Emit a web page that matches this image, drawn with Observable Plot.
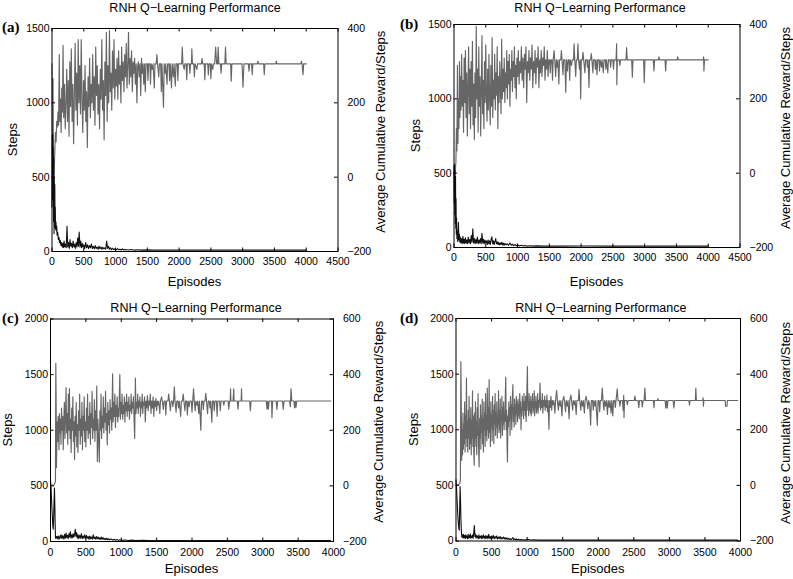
<!DOCTYPE html>
<html><head><meta charset="utf-8">
<script src="https://cdn.jsdelivr.net/npm/d3@7"></script>
<script src="https://cdn.jsdelivr.net/npm/@observablehq/plot@0.6"></script>
<style>
body{margin:0;background:#fff;}
#chart{position:relative;width:793px;height:579px;overflow:hidden;background:#fff;}
#chart svg{position:absolute;overflow:visible;}
</style></head><body><div id="chart"></div>
<script>
const chartTitle = "RNH Q\u2212Learning Performance";
const xLabel = "Episodes";
const yLabel = "Steps";
const y2Label = "Average Cumulative Reward/Steps";
const panelLabels = ["(a)", "(b)", "(c)", "(d)"];
const episodeTicksAB = [0, 500, 1000, 1500, 2000, 2500, 3000, 3500, 4000, 4500];
const episodeTicksCD = [0, 500, 1000, 1500, 2000, 2500, 3000, 3500, 4000];
const stepTicksAB = [0, 500, 1000, 1500];
const stepTicksCD = [0, 500, 1000, 1500, 2000];
const rewardTicksAB = [-200, 0, 200, 400];
const rewardTicksCD = [-200, 0, 200, 400, 600];

// [episode, average cumulative reward] (right axis)
const rewardA = [[0,305],[8,0],[16,265],[24,-5],[34,10],[44,70],[54,120],[64,95],[74,150],[84,135],[94,175],[104,140],[114,330],[124,150],[134,210],[144,120],[154,240],[164,175],[174,355],[184,160],[196,250],[208,130],[220,200],[232,290],[244,150],[256,260],[268,110],[280,310],[292,190],[304,345],[316,150],[328,250],[340,90],[352,220],[364,360],[376,180],[388,280],[400,140],[412,370],[424,200],[436,300],[448,170],[460,370],[472,210],[484,120],[496,260],[508,180],[520,300],[532,150],[544,230],[556,80],[568,270],[580,190],[592,320],[604,160],[616,250],[628,200],[640,330],[652,180],[664,270],[676,140],[688,350],[700,220],[712,300],[724,170],[736,250],[748,130],[760,290],[772,210],[784,370],[796,180],[808,260],[820,100],[832,310],[844,220],[856,390],[868,150],[880,300],[892,200],[904,395],[916,230],[928,280],[940,180],[952,340],[964,240],[976,370],[988,210],[1000,290],[1012,245],[1024,320],[1036,210],[1048,340],[1060,250],[1072,300],[1084,200],[1096,350],[1108,260],[1120,310],[1132,230],[1144,330],[1156,270],[1168,360],[1180,240],[1192,300],[1204,390],[1216,250],[1228,320],[1240,270],[1252,340],[1264,230],[1276,310],[1288,280],[1300,320],[1312,250],[1324,305],[1336,200],[1348,300],[1360,310],[1372,270],[1384,305],[1396,220],[1408,320],[1420,280],[1432,305],[1444,250],[1456,305],[1468,230],[1480,305],[1500,305],[1510,260],[1520,305],[1540,305],[1550,250],[1560,305],[1575,290],[1590,305],[1610,240],[1620,305],[1640,305],[1650,330],[1660,305],[1680,270],[1690,305],[1710,305],[1720,230],[1730,305],[1754,188],[1765,305],[1780,280],[1790,305],[1810,250],[1820,305],[1840,305],[1850,260],[1860,305],[1880,240],[1890,305],[1910,270],[1920,305],[1940,245],[1950,305],[1970,305],[1980,260],[1990,305],[2040,305],[2050,350],[2060,305],[2080,290],[2090,305],[2110,305],[2120,262],[2130,305],[2160,305],[2170,280],[2180,305],[2195,305],[2200,345],[2210,305],[2230,305],[2240,270],[2250,305],[2280,290],[2290,305],[2350,305],[2360,320],[2370,305],[2395,305],[2405,262],[2415,305],[2450,305],[2460,275],[2470,305],[2490,305],[2500,265],[2510,305],[2530,290],[2540,305],[2560,305],[2575,350],[2590,305],[2605,305],[2615,350],[2625,305],[2650,305],[2660,280],[2670,305],[2720,305],[2730,350],[2740,305],[2810,305],[2820,258],[2830,305],[2990,305],[3005,242],[3020,305],[3090,305],[3100,285],[3110,305],[3140,305],[3150,276],[3160,305],[3230,305],[3240,312],[3250,305],[3330,305],[3340,276],[3350,305],[3520,305],[3530,312],[3540,305],[3915,305],[3925,312],[3935,305],[3950,276],[3960,305],[4000,305]];
// [episode, steps] (left axis)
const stepsA = [[0,300],[4,780],[8,420],[12,790],[16,350],[20,700],[24,200],[28,620],[32,120],[36,500],[40,230],[44,450],[48,160],[52,300],[56,150],[62,200],[68,140],[74,170],[80,110],[90,130],[100,80],[110,95],[120,60],[130,75],[140,40],[150,60],[160,30],[170,55],[180,25],[190,70],[200,30],[212,50],[224,25],[236,170],[248,30],[260,60],[272,20],[284,80],[296,35],[308,55],[320,25],[332,70],[344,30],[356,50],[368,20],[380,60],[392,30],[404,90],[416,35],[428,130],[440,30],[452,70],[464,25],[476,55],[488,30],[500,45],[515,20],[530,60],[545,25],[560,45],[575,20],[590,40],[605,25],[620,50],[635,20],[650,35],[665,18],[680,40],[695,20],[710,30],[725,15],[740,35],[755,18],[770,30],[785,15],[800,28],[815,18],[830,25],[845,15],[860,70],[875,20],[890,35],[905,15],[920,25],[935,12],[950,22],[970,12],[990,18],[1010,10],[1030,20],[1050,12],[1070,15],[1090,10],[1110,18],[1130,10],[1150,14],[1200,10],[1250,14],[1300,9],[1350,12],[1400,9],[1500,11],[1600,9],[1800,10],[2000,9],[2500,9],[3000,9],[3500,9],[4000,9]];

const rewardB = [[0,0],[10,-5],[20,5],[30,30],[38,120],[46,60],[54,290],[62,80],[70,200],[78,120],[86,300],[94,150],[102,260],[110,170],[120,320],[130,180],[140,250],[150,110],[160,310],[170,190],[180,330],[190,150],[200,270],[210,100],[220,230],[230,340],[240,160],[250,280],[260,120],[270,300],[280,180],[290,355],[300,130],[310,240],[320,90],[330,270],[340,150],[350,395],[360,200],[370,280],[380,110],[390,340],[400,180],[410,260],[420,100],[430,230],[440,370],[450,160],[460,250],[470,120],[480,300],[490,190],[500,345],[510,210],[520,140],[530,280],[540,170],[550,320],[560,200],[570,130],[580,290],[590,180],[600,365],[610,150],[620,250],[630,200],[640,320],[650,170],[660,270],[670,210],[680,340],[690,120],[700,260],[710,190],[720,300],[730,230],[740,160],[750,360],[760,200],[770,280],[780,220],[790,310],[800,190],[810,270],[820,230],[830,330],[840,200],[850,300],[860,240],[870,320],[880,180],[890,280],[900,250],[910,330],[920,220],[930,300],[940,260],[950,340],[960,230],[970,290],[980,200],[990,310],[1000,260],[1012,330],[1024,240],[1036,300],[1048,270],[1060,340],[1072,250],[1084,310],[1096,230],[1108,320],[1120,280],[1132,340],[1144,190],[1156,300],[1168,270],[1180,330],[1192,250],[1204,310],[1216,280],[1228,345],[1240,230],[1252,300],[1264,270],[1276,330],[1288,240],[1300,310],[1312,285],[1324,340],[1336,230],[1348,305],[1360,270],[1372,330],[1384,260],[1396,310],[1408,290],[1420,340],[1432,250],[1444,305],[1456,280],[1468,330],[1480,260],[1492,305],[1505,305],[1515,270],[1525,305],[1540,305],[1550,250],[1560,305],[1575,330],[1585,305],[1600,260],[1610,305],[1625,285],[1635,305],[1650,240],[1660,305],[1680,305],[1690,330],[1700,305],[1715,265],[1725,305],[1745,305],[1758,218],[1770,305],[1785,275],[1795,305],[1810,305],[1820,250],[1830,305],[1850,290],[1860,305],[1880,305],[1890,348],[1900,305],[1915,260],[1925,305],[1940,305],[1950,348],[1960,305],[1975,280],[1985,305],[1993,200],[2003,305],[2020,305],[2030,325],[2040,305],[2060,270],[2070,305],[2090,305],[2100,285],[2110,305],[2124,231],[2134,305],[2150,305],[2160,322],[2170,305],[2185,270],[2195,305],[2215,305],[2225,280],[2235,305],[2250,265],[2260,305],[2280,305],[2290,275],[2300,305],[2320,285],[2330,305],[2350,270],[2360,305],[2380,305],[2390,280],[2400,305],[2420,270],[2430,305],[2455,305],[2465,285],[2475,305],[2500,305],[2510,280],[2520,305],[2550,305],[2559,348],[2562,238],[2570,305],[2600,305],[2610,290],[2620,305],[2706,305],[2716,338],[2726,305],[2796,305],[2806,258],[2816,305],[2984,305],[2994,244],[3004,305],[3136,305],[3146,275],[3156,305],[3215,305],[3225,313],[3235,305],[3320,305],[3330,275],[3340,305],[3510,305],[3520,313],[3530,305],[3920,305],[3928,313],[3932,275],[3942,305],[4000,305]];
const stepsB = [[0,550],[4,300],[8,560],[12,220],[16,520],[20,160],[24,480],[28,130],[32,330],[36,90],[40,200],[46,60],[52,110],[58,40],[64,90],[70,170],[76,50],[84,90],[92,35],[100,70],[110,30],[120,60],[130,25],[140,75],[150,30],[160,55],[170,25],[180,65],[190,30],[200,50],[212,25],[224,70],[236,30],[248,55],[260,25],[272,80],[284,35],[296,125],[308,30],[320,60],[332,25],[344,55],[356,30],[368,70],[380,25],[392,50],[404,30],[416,60],[428,25],[440,95],[452,30],[464,55],[476,25],[488,50],[500,30],[512,45],[524,20],[536,50],[548,25],[560,45],[572,20],[584,55],[596,72],[608,25],[620,45],[632,20],[644,40],[656,60],[668,25],[680,38],[692,20],[704,35],[716,18],[728,30],[740,20],[752,35],[764,18],[776,30],[788,15],[800,28],[820,18],[840,25],[860,15],[880,30],[900,15],[920,22],[940,12],[960,20],[980,12],[1000,18],[1030,10],[1060,15],[1090,10],[1120,14],[1150,9],[1200,12],[1250,9],[1300,11],[1400,9],[1500,10],[1700,9],[2000,10],[2500,9],[3000,9],[3500,9],[4000,9]];

const rewardC = [[0,5],[15,0],[30,3],[45,0],[60,10],[70,15],[75,441],[80,300],[84,65],[90,160],[96,230],[102,160],[108,250],[114,200],[120,130],[126,260],[132,190],[140,240],[148,150],[156,280],[164,200],[172,250],[180,130],[188,230],[196,300],[204,170],[212,250],[220,353],[228,190],[236,260],[244,150],[252,330],[260,200],[268,350],[276,170],[284,240],[292,120],[300,280],[308,200],[316,320],[324,160],[332,230],[340,94],[348,250],[356,180],[364,300],[372,140],[380,220],[388,120],[396,270],[404,200],[412,330],[420,150],[428,240],[436,180],[444,300],[452,130],[460,250],[468,200],[476,320],[484,160],[492,230],[500,140],[508,280],[516,200],[524,330],[532,170],[540,250],[548,190],[556,300],[564,150],[572,260],[580,210],[588,340],[596,170],[604,240],[612,200],[620,310],[628,160],[636,270],[644,200],[654,359],[662,88],[670,240],[678,180],[690,85],[698,270],[706,200],[714,330],[722,170],[730,250],[738,210],[746,320],[754,190],[762,280],[770,230],[778,340],[786,200],[794,260],[802,147],[810,300],[818,220],[826,270],[834,190],[842,310],[850,240],[858,280],[866,200],[878,403],[886,230],[894,300],[902,250],[910,330],[918,210],[926,290],[934,250],[942,320],[950,230],[958,280],[966,250],[980,400],[988,240],[996,300],[1004,260],[1012,330],[1020,240],[1028,290],[1036,260],[1044,320],[1052,230],[1060,300],[1068,270],[1076,330],[1084,250],[1092,300],[1100,270],[1108,320],[1116,240],[1124,290],[1132,270],[1140,330],[1148,260],[1156,300],[1164,280],[1172,320],[1180,250],[1190,170],[1200,388],[1208,260],[1216,300],[1224,280],[1232,330],[1240,260],[1248,305],[1256,285],[1264,320],[1272,250],[1280,300],[1288,280],[1296,330],[1304,260],[1312,300],[1320,290],[1330,320],[1340,230],[1350,305],[1360,280],[1370,325],[1380,270],[1390,305],[1400,290],[1410,330],[1420,260],[1430,305],[1440,280],[1450,320],[1460,250],[1470,305],[1480,285],[1490,315],[1500,270],[1510,305],[1520,290],[1530,305],[1545,260],[1555,305],[1570,320],[1580,305],[1595,275],[1605,305],[1620,305],[1630,255],[1640,305],[1660,305],[1670,330],[1680,305],[1695,270],[1705,305],[1720,305],[1730,285],[1740,305],[1750,356],[1760,305],[1775,265],[1785,305],[1800,305],[1810,280],[1820,305],[1840,250],[1850,305],[1865,305],[1875,330],[1885,305],[1900,270],[1910,305],[1925,305],[1935,255],[1945,305],[1960,285],[1970,305],[1990,305],[2000,265],[2010,305],[2022,349],[2032,305],[2045,270],[2055,305],[2070,290],[2080,305],[2095,260],[2105,305],[2125,200],[2135,305],[2150,305],[2160,275],[2170,305],[2185,305],[2195,333],[2205,305],[2220,260],[2230,305],[2245,305],[2255,280],[2265,305],[2280,229],[2290,305],[2305,305],[2315,270],[2325,305],[2345,305],[2355,250],[2365,305],[2390,305],[2400,270],[2410,305],[2440,305],[2450,290],[2460,305],[2510,305],[2520,276],[2530,305],[2540,305],[2545,349],[2550,305],[2580,305],[2590,349],[2595,305],[2640,305],[2650,276],[2660,305],[2695,305],[2700,349],[2705,305],[2815,305],[2825,270],[2835,305],[3050,305],[3060,276],[3070,305],[3080,276],[3090,305],[3125,305],[3130,245],[3140,305],[3190,305],[3200,275],[3210,305],[3280,305],[3290,275],[3300,305],[3380,305],[3390,285],[3400,349],[3410,305],[3440,305],[3450,280],[3460,305],[3470,282],[3480,305],[3960,305]];
const stepsC = [[0,550],[8,480],[16,360],[24,250],[32,150],[38,110],[44,200],[50,350],[56,480],[62,300],[66,150],[70,40],[76,25],[82,45],[90,45],[100,25],[110,50],[120,20],[130,40],[140,55],[150,25],[160,60],[170,30],[180,50],[190,20],[200,65],[210,30],[220,75],[230,35],[240,55],[250,25],[260,70],[270,40],[280,90],[290,30],[300,60],[310,35],[320,70],[330,40],[340,60],[350,110],[360,45],[370,80],[380,30],[390,60],[400,25],[412,55],[424,30],[436,70],[448,25],[460,50],[472,30],[484,60],[496,25],[508,55],[520,30],[532,45],[544,20],[556,50],[568,25],[580,40],[592,20],[604,60],[616,25],[628,40],[640,20],[652,45],[664,25],[676,38],[688,20],[700,35],[712,18],[724,40],[736,20],[748,32],[760,18],[772,28],[784,15],[796,30],[808,15],[820,25],[840,15],[860,22],[880,12],[900,20],[920,12],[940,18],[960,10],[980,15],[1000,10],[1050,14],[1100,9],[1150,12],[1200,8],[1300,11],[1400,8],[1600,9],[2000,8],[2500,8],[3000,8],[3500,8],[3960,8]];

const rewardD = [[0,3],[15,0],[30,3],[45,5],[55,8],[62,20],[68,445],[74,300],[80,90],[86,200],[92,110],[98,260],[104,130],[110,220],[116,150],[122,300],[128,120],[134,250],[140,170],[147,386],[154,140],[160,230],[166,120],[172,270],[178,170],[184,320],[190,130],[196,240],[202,150],[208,280],[214,110],[220,230],[226,170],[232,340],[238,140],[244,250],[250,120],[256,72],[262,260],[268,170],[274,300],[280,140],[286,230],[292,110],[298,280],[304,180],[310,330],[316,150],[325,66],[332,240],[338,170],[344,290],[350,130],[356,250],[362,190],[368,310],[374,150],[380,240],[386,120],[392,300],[398,200],[404,260],[410,140],[416,330],[422,180],[428,250],[434,160],[440,350],[446,200],[452,280],[458,170],[466,380],[472,190],[478,260],[484,140],[490,300],[496,210],[502,250],[508,160],[514,320],[520,200],[526,270],[532,150],[538,290],[544,220],[550,330],[556,180],[562,260],[568,210],[574,300],[580,170],[586,250],[592,220],[598,340],[604,190],[610,270],[616,200],[622,310],[628,170],[634,250],[640,230],[646,320],[652,180],[658,280],[664,220],[670,300],[676,200],[682,260],[688,230],[694,330],[700,389],[706,200],[712,270],[718,140],[724,84],[730,250],[736,210],[742,300],[748,230],[754,280],[760,180],[766,320],[772,240],[778,290],[784,200],[790,300],[800,362],[806,230],[812,280],[818,210],[824,310],[830,250],[836,290],[842,220],[848,320],[854,260],[860,300],[866,230],[872,310],[878,250],[884,290],[890,240],[896,330],[902,260],[908,300],[914,200],[920,280],[926,250],[932,320],[938,270],[944,300],[950,240],[956,330],[962,270],[968,300],[974,250],[980,320],[986,230],[992,290],[1004,427],[1010,270],[1016,300],[1022,250],[1028,330],[1034,270],[1040,300],[1046,260],[1052,320],[1058,250],[1064,300],[1070,280],[1076,330],[1082,260],[1088,300],[1094,270],[1100,340],[1106,250],[1112,300],[1118,280],[1124,320],[1130,260],[1136,300],[1142,270],[1148,330],[1154,260],[1160,305],[1168,280],[1176,320],[1182,368],[1190,270],[1198,305],[1206,280],[1214,330],[1222,260],[1230,305],[1238,285],[1246,320],[1254,270],[1262,305],[1270,280],[1278,325],[1286,265],[1294,305],[1307,202],[1315,305],[1325,280],[1335,320],[1345,270],[1355,305],[1365,290],[1375,305],[1390,260],[1400,305],[1415,342],[1425,305],[1440,270],[1450,305],[1465,285],[1475,305],[1490,250],[1500,305],[1515,320],[1525,305],[1540,265],[1550,305],[1565,285],[1575,305],[1590,240],[1600,305],[1615,325],[1625,305],[1640,270],[1650,305],[1665,290],[1675,305],[1690,255],[1700,305],[1720,305],[1730,345],[1740,305],[1755,270],[1765,305],[1780,285],[1790,305],[1805,260],[1815,305],[1830,320],[1840,305],[1855,275],[1865,305],[1880,290],[1893,216],[1903,305],[1920,305],[1930,270],[1940,305],[1955,285],[1965,305],[1987,216],[1997,305],[2010,305],[2020,265],[2030,305],[2045,305],[2057,350],[2067,305],[2080,270],[2090,305],[2105,285],[2115,305],[2130,255],[2140,305],[2155,280],[2165,305],[2180,260],[2190,305],[2205,250],[2215,305],[2230,305],[2240,280],[2250,305],[2267,347],[2277,305],[2295,305],[2305,285],[2315,305],[2340,305],[2350,270],[2358,324],[2362,244],[2370,305],[2400,305],[2410,290],[2420,305],[2505,305],[2515,321],[2525,305],[2560,305],[2570,279],[2580,305],[2610,305],[2620,282],[2630,305],[2645,305],[2655,350],[2665,305],[2775,305],[2783,279],[2791,305],[2832,305],[2840,312],[2848,305],[2940,305],[2950,278],[2960,305],[2970,278],[2980,305],[3053,305],[3063,278],[3073,305],[3275,305],[3283,288],[3291,305],[3365,305],[3372,350],[3380,305],[3468,305],[3475,315],[3478,285],[3485,305],[3785,305],[3790,285],[3810,285],[3815,305],[3960,305]];
const stepsD = [[0,550],[8,470],[16,350],[24,250],[32,170],[40,110],[46,97],[52,300],[58,490],[64,350],[70,180],[76,80],[82,36],[90,55],[98,25],[106,60],[114,30],[122,50],[130,20],[138,55],[146,30],[154,45],[162,20],[170,60],[178,25],[186,50],[194,30],[202,65],[210,25],[218,45],[226,30],[234,55],[242,25],[250,80],[258,140],[266,40],[274,60],[282,25],[290,50],[298,30],[306,45],[314,20],[322,55],[330,25],[338,40],[346,30],[354,50],[362,20],[370,45],[378,25],[386,55],[394,30],[402,40],[410,20],[420,50],[430,25],[440,45],[450,20],[460,60],[470,25],[480,40],[490,20],[500,45],[512,25],[524,50],[536,20],[548,40],[560,25],[572,45],[584,18],[596,35],[608,22],[620,40],[632,18],[644,30],[656,20],[668,35],[680,18],[692,30],[704,15],[716,28],[728,15],[740,25],[752,15],[764,22],[776,12],[788,20],[800,30],[812,12],[824,20],[836,12],[848,18],[860,10],[880,15],[900,10],[920,14],[940,9],[960,12],[980,8],[1000,15],[1050,9],[1100,11],[1150,8],[1200,9],[1400,8],[2000,8],[3000,8],[3960,8]];

// right axis: reward r shares the frame with steps s = 2.5 * (r + 200)
const toSteps = r => (r + 200) * 2.5;
const toReward = s => Math.round(s / 2.5 - 200);
const fmtNum = v => (v < 0 ? "\u2212" + Math.abs(v) : String(v));

const FONT = '"Liberation Sans", Arial, Helvetica, sans-serif';
const GRAY = "#666666";

// layout (absolute page coordinates of each axes frame)
const layout = [
  {ox: 0, oy: 0, w: 396, h: 290, L: 51.5, R: 337.5, T: 28, B: 251,
   titleX: 195, titleY: 11.5, labX: 2, labY: 32, stepsX: 12.7, epY: 285.5, r2X: 380, r2Y: 131.7, xPad: 6},
  {ox: 396, oy: 0, w: 397, h: 290, L: 453.5, R: 739.5, T: 24, B: 247,
   titleX: 600, titleY: 11.5, labX: 400, labY: 29, stepsX: 415, epY: 285.5, r2X: 785, r2Y: 128, xPad: 6.5},
  {ox: 0, oy: 290, w: 396, h: 289, L: 50, R: 333, T: 318.5, B: 541,
   titleX: 196, titleY: 311.5, labX: 2, labY: 322.5, stepsX: 7, epY: 573, r2X: 378, r2Y: 421.7, xPad: 7.5},
  {ox: 396, oy: 290, w: 397, h: 289, L: 455.5, R: 740, T: 318, B: 540.5,
   titleX: 600.8, titleY: 311.5, labX: 400, labY: 322.5, stepsX: 413, epY: 573, r2X: 785, r2Y: 423, xPad: 7.5}
];

const panels = [
  {reward: rewardA, steps: stepsA, xTicks: episodeTicksAB, yTicks: stepTicksAB, rTicks: rewardTicksAB},
  {reward: rewardB, steps: stepsB, xTicks: episodeTicksAB, yTicks: stepTicksAB, rTicks: rewardTicksAB},
  {reward: rewardC, steps: stepsC, xTicks: episodeTicksCD, yTicks: stepTicksCD, rTicks: rewardTicksCD},
  {reward: rewardD, steps: stepsD, xTicks: episodeTicksCD, yTicks: stepTicksCD, rTicks: rewardTicksCD}
];

const root = document.getElementById("chart");

panels.forEach((p, i) => {
  const g = layout[i];
  const ml = g.L - g.ox, mr = g.ox + g.w - g.R, mt = g.T - g.oy, mb = g.oy + g.h - g.B;
  const fw = g.R - g.L, fh = g.B - g.T, tl = 3.5;
  const xMax = p.xTicks[p.xTicks.length - 1];
  const yMax = p.yTicks[p.yTicks.length - 1];
  const rPos = p.rTicks.map(toSteps);
  const svg = Plot.plot({
    width: g.w, height: g.h,
    marginLeft: ml, marginRight: mr, marginTop: mt, marginBottom: mb,
    style: {background: "transparent", fontFamily: FONT, fontSize: "10.5px", overflow: "visible", color: "#000"},
    x: {domain: [0, xMax]},
    y: {domain: [0, yMax]},
    marks: [
      Plot.line(p.reward, {x: d => d[0], y: d => toSteps(d[1]), stroke: GRAY, strokeWidth: 1.15}),
      Plot.line(p.steps, {x: d => d[0], y: d => d[1], stroke: "#111", strokeWidth: 1.1}),
      Plot.tickX(p.xTicks, {x: d => d, insetTop: fh - tl, stroke: "#000"}),
      Plot.tickX(p.xTicks, {x: d => d, insetBottom: fh - tl, stroke: "#000"}),
      Plot.tickY(p.yTicks, {y: d => d, insetRight: fw - tl, stroke: "#000"}),
      Plot.tickY(rPos, {y: d => d, insetLeft: fw - tl, stroke: "#000"}),
      Plot.axisX(p.xTicks, {anchor: "bottom", tickSize: 0, tickPadding: g.xPad, label: null, tickFormat: d => String(d)}),
      Plot.axisY(p.yTicks, {anchor: "left", tickSize: 0, tickPadding: 2.5, label: null, tickFormat: d => String(d)}),
      Plot.axisY(rPos, {anchor: "right", tickSize: 0, tickPadding: 9.5, label: null, tickFormat: d => fmtNum(toReward(d))}),
      Plot.frame({stroke: "#000"})
    ]
  });
  svg.style.left = g.ox + "px";
  svg.style.top = g.oy + "px";
  root.appendChild(svg);
  const s = d3.select(svg);
  const cx = (g.L + g.R) / 2 - g.ox, cy = (g.T + g.B) / 2 - g.oy;
  s.append("text").attr("x", g.titleX - g.ox).attr("y", g.titleY - g.oy)
    .attr("text-anchor", "middle").attr("font-size", 12.5).attr("fill", "#000").text(chartTitle);
  s.append("text").attr("x", g.labX - g.ox).attr("y", g.labY - g.oy).attr("text-anchor", "start")
    .attr("font-family", '"Liberation Serif", "Times New Roman", serif').attr("font-weight", "bold")
    .attr("font-size", 15).attr("fill", "#000").text(panelLabels[i]);
  s.append("text").attr("x", cx).attr("y", g.epY - g.oy)
    .attr("text-anchor", "middle").attr("font-size", 13).attr("fill", "#000").text(xLabel);
  s.append("text").attr("transform", `translate(${g.stepsX - g.ox},${cy}) rotate(-90)`)
    .attr("dy", "0.35em").attr("text-anchor", "middle").attr("font-size", 13).attr("fill", "#000").text(yLabel);
  s.append("text").attr("transform", `translate(${g.r2X - g.ox},${g.r2Y - g.oy}) rotate(-90)`)
    .attr("dy", "0.35em").attr("text-anchor", "middle").attr("font-size", 13).attr("fill", "#000").text(y2Label);
});
</script>
</body></html>
